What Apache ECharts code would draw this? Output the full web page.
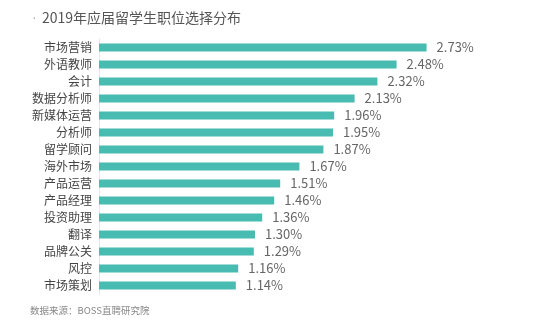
<!DOCTYPE html>
<html>
<head>
<meta charset="utf-8">
<script src="https://cdn.jsdelivr.net/npm/echarts@6/dist/echarts.min.js"></script>
<style>html,body{margin:0;padding:0;background:#fff;}#c{width:554px;height:334px;}</style>
</head>
<body>
<div id="c"></div>
<script>
var categories = ['市场营销','外语教师','会计','数据分析师','新媒体运营','分析师','留学顾问','海外市场','产品运营','产品经理','投资助理','翻译','品牌公关','风控','市场策划'];
var values = [2.73,2.48,2.32,2.13,1.96,1.95,1.87,1.67,1.51,1.46,1.36,1.30,1.29,1.16,1.14];
var titleText = '2019年应届留学生职位选择分布';
var sourceText = '数据来源：BOSS直聘研究院';

var FONT = '"Noto Sans CJK SC", "Noto Sans", sans-serif';
var chart = echarts.init(document.getElementById('c'), null, {renderer:'canvas'});
chart.setOption({
  animation: false,
  backgroundColor: '#fff',
  title: {
    left: 27, top: 6,
    text: '{d|·}{t|' + titleText + '}',
    textStyle: {
      fontWeight: 'normal',
      rich: {
        d: {fontSize: 14, color: '#aaa', fontFamily: 'Liberation Sans', fontWeight: 'normal', width: 10},
        t: {fontSize: 14, color: '#555', fontFamily: FONT, fontWeight: 'normal'}
      }
    }
  },
  graphic: [{
    type: 'text', left: 30, top: 306,
    style: {text: sourceText, fill: '#888', fontSize: 9.5, fontFamily: FONT}
  }],
  grid: {left: 99, right: 35, top: 39, bottom: 40, containLabel: false},
  xAxis: {
    type: 'value', min: 0, max: 3.5, show: false
  },
  yAxis: {
    type: 'category', data: categories, inverse: true,
    axisLine: {show: true, lineStyle: {color: '#e6e6e6', width: 1}},
    axisTick: {show: false},
    axisLabel: {color: '#444', fontSize: 12, fontFamily: FONT, margin: 7}
  },
  series: [{
    type: 'bar', data: values, barWidth: 8,
    itemStyle: {color: '#48bcb0'},
    label: {
      show: true, position: 'right', distance: 10,
      color: '#666', fontSize: 13, fontFamily: FONT,
      formatter: function(p){ return p.value.toFixed(2) + '%'; }
    }
  }]
});
</script>
</body>
</html>
